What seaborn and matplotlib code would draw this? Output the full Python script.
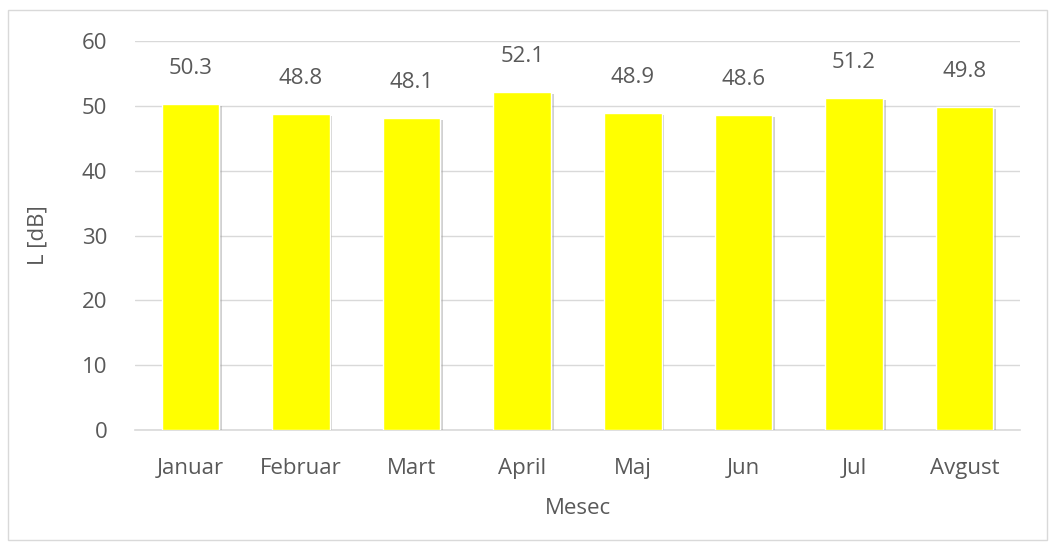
import matplotlib
matplotlib.use("Agg")
import matplotlib.pyplot as plt
import matplotlib.patheffects as pe
from matplotlib.patches import Rectangle
import seaborn as sns
import pandas as pd

months = ["Januar", "Februar", "Mart", "April", "Maj", "Jun", "Jul", "Avgust"]
levels = [50.3, 48.8, 48.1, 52.1, 48.9, 48.6, 51.2, 49.8]

sns.set_theme(style="white")
plt.rcParams['font.family'] = ['Open Sans', 'DejaVu Sans']
txt = "#595959"
fs = 16

df = pd.DataFrame({"Mesec": months, "L": levels})
fig = plt.figure(figsize=(10.57, 5.48), dpi=100)
ax = fig.add_axes([0.1277, 0.2153, 0.8373, 0.7097])

sns.barplot(data=df, x="Mesec", y="L", color="#FFFF00", saturation=1, width=0.52, ax=ax, zorder=3)
for p in ax.patches:
    p.set_path_effects([pe.SimplePatchShadow(offset=(2, -1.5), shadow_rgbFace="#999999", alpha=0.45), pe.Normal()])

ax.set_ylim(0, 60)
ax.set_yticks(range(0, 61, 10))
ax.grid(axis="y", color="#d9d9d9", linewidth=1, zorder=0)
for s in ["top", "right", "left"]:
    ax.spines[s].set_visible(False)
ax.spines["bottom"].set_color("#d9d9d9")
ax.spines["bottom"].set_linewidth(1.2)
ax.tick_params(axis="both", length=0, labelsize=fs, labelcolor=txt)
ax.tick_params(axis="x", pad=20)
ax.tick_params(axis="y", pad=20)
ax.set_xlabel("Mesec", fontsize=fs, color=txt, labelpad=14)
ax.set_ylabel("L [dB]", fontsize=fs, color=txt, labelpad=24)

for c in ax.containers:
    ax.bar_label(c, labels=[f"{v:.1f}" for v in levels], padding=18, fontsize=fs, color=txt)

fig.add_artist(Rectangle((8/1057, 1 - 540/548), 1039/1057, 530/548, transform=fig.transFigure,
                         fill=False, edgecolor="#d9d9d9", linewidth=1))
fig.savefig("out.png", dpi=100)
